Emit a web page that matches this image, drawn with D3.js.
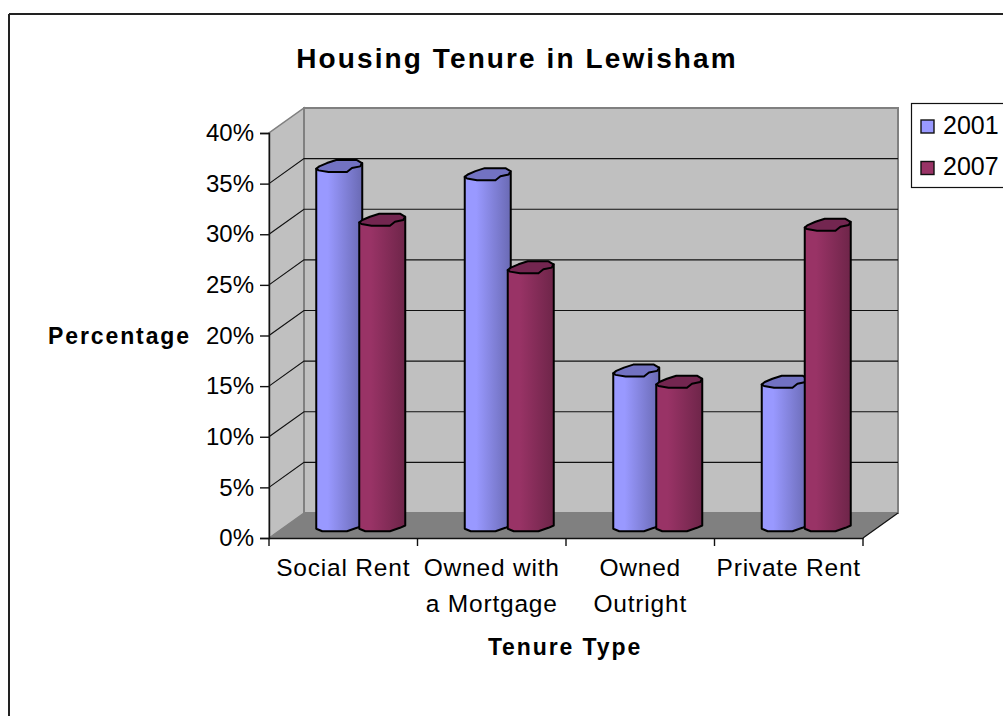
<!DOCTYPE html>
<html><head><meta charset="utf-8">
<script src="https://cdn.jsdelivr.net/npm/d3@7"></script>
<style>
html,body{margin:0;padding:0;background:#fff;overflow:hidden}
text{font-family:"Liberation Sans",Arial,sans-serif;fill:#000}
</style></head><body>
<svg id="c" width="1003" height="716"></svg>
<script>
const categories=["Social Rent","Owned with a Mortgage","Owned Outright","Private Rent"];
const categoryLines=[["Social Rent"],["Owned with","a Mortgage"],["Owned","Outright"],["Private Rent"]];
const seriesNames=["2001","2007"];
const values2001=[35.5,34.7,15.3,14.2];
const values2007=[30.2,25.5,14.2,29.7];
const yTicks=[0,5,10,15,20,25,30,35,40];
const seriesColors=["#9999FF","#993366"];
const seriesDark=["#6A6AB4","#6E2549"];
const capColors=["#7272C2","#732650"];

const svg=d3.select("#c");
const y=d3.scaleLinear().domain([0,40]).range([538,133]);
const x=d3.scaleBand().domain(categories).range([269,863]);
const inner=d3.scaleBand().domain(seriesNames).range([-43,43]);
const depth={dx:35,dy:-25};
const line=d3.line();

// outer border
svg.append("line").attr("x1",9).attr("x2",9).attr("y1",14).attr("y2",716).attr("stroke","#222").attr("stroke-width",2);
svg.append("line").attr("x1",9).attr("x2",1003).attr("y1",14).attr("y2",14).attr("stroke","#222").attr("stroke-width",2);

// title
svg.append("text").attr("x",517).attr("y",68).attr("text-anchor","middle")
 .attr("font-size",28).attr("font-weight","bold").attr("letter-spacing",2.1).text("Housing Tenure in Lewisham");

// walls
const [x0,x1]=x.range();
const wallStroke="#808080";
svg.append("path").attr("d",line([[x0,y(0)],[x0+depth.dx,y(0)+depth.dy],[x0+depth.dx,y(40)+depth.dy],[x0,y(40)]])+"Z")
 .attr("fill","#C0C0C0").attr("stroke",wallStroke).attr("stroke-width",1.5);
svg.append("rect").attr("x",x0+depth.dx).attr("y",y(40)+depth.dy).attr("width",x1-x0).attr("height",y(0)-y(40))
 .attr("fill","#C0C0C0").attr("stroke",wallStroke).attr("stroke-width",2);
svg.append("path").attr("d",line([[x0,y(0)],[x0+depth.dx,y(0)+depth.dy],[x1+depth.dx,y(0)+depth.dy],[x1,y(0)]])+"Z")
 .attr("fill","#808080");

// gridlines on the walls
yTicks.filter(t=>t>0&&t<40).forEach(t=>{
  svg.append("path").attr("fill","none").attr("stroke","#111").attr("stroke-width",1.2)
   .attr("d",line([[x0,y(t)],[x0+depth.dx,y(t)+depth.dy],[x1+depth.dx,y(t)+depth.dy]]));
});
svg.append("line").attr("x1",x1).attr("y1",y(0)).attr("x2",x1+depth.dx).attr("y2",y(0)+depth.dy).attr("stroke","#111").attr("stroke-width",1.2);

// axes
const yAxisG=svg.append("g").attr("transform",`translate(${x0},0)`).call(
  d3.axisLeft(y).tickValues(yTicks).tickSize(9).tickPadding(6).tickFormat(d=>d+"%"));
const xAxisG=svg.append("g").attr("transform",`translate(0,${y(0)})`).call(
  d3.axisBottom(x).tickValues([]).tickSizeOuter(0));
[yAxisG,xAxisG].forEach(g=>{g.selectAll("path,line").attr("stroke","#111").attr("stroke-width",1.4);});
yAxisG.selectAll("text").attr("font-size",24).attr("fill","#000").attr("font-family","Liberation Sans");
xAxisG.selectAll(".edge").data(d3.range(categories.length+1)).enter().append("line").attr("class","edge")
 .attr("x1",i=>x0+i*x.step()).attr("x2",i=>x0+i*x.step()).attr("y1",0).attr("y2",8).attr("stroke","#111").attr("stroke-width",1.4);

// category labels
categories.forEach((c,i)=>{
  categoryLines[i].forEach((l,j)=>{
    svg.append("text").attr("x",x(c)+x.bandwidth()/2).attr("y",576+j*35.5).attr("text-anchor","middle")
     .attr("font-size",24.5).attr("letter-spacing",0.8).text(l);
  });
});

// axis titles
svg.append("text").attr("x",48).attr("y",344).attr("font-size",23).attr("font-weight","bold").attr("letter-spacing",1.9).text("Percentage");
svg.append("text").attr("x",565).attr("y",655).attr("text-anchor","middle").attr("font-size",23).attr("font-weight","bold").attr("letter-spacing",1.9).text("Tenure Type");

// gradients
const defs=svg.append("defs");
seriesNames.forEach((s,i)=>{
  const g=defs.append("linearGradient").attr("id","g"+s);
  g.append("stop").attr("offset","0").attr("stop-color",seriesColors[i]);
  g.append("stop").attr("offset","0.25").attr("stop-color",seriesColors[i]);
  g.append("stop").attr("offset","1").attr("stop-color",seriesDark[i]);
});

// cylinders: faceted outline of the top cap and the lower edge
const capShape=[[-23,2.7],[-20,0.3],[-12.3,-3],[-3,-6],[17.7,-6],[22.7,-3],[21,0.3],[12.7,2],[7.7,6],[-10.7,6],[-20.7,4.3]];
const baseShape=[[-23,3.3],[-17,5.7],[7.7,5.7],[17.7,2.3],[23,0]];
const midDepth={dx:depth.dx/2,dy:depth.dy/2};
function drawBar(cat,si,v){
  const cx=x(cat)+x.bandwidth()/2+midDepth.dx+inner(seriesNames[si])+inner.bandwidth()/2;
  const yb=y(0)+midDepth.dy, yt=y(v)+midDepth.dy;
  const bodyPts=[[cx-23,yt+2.7],...baseShape.map(p=>[cx+p[0],yb+p[1]]),[cx+23,yt-3]];
  svg.append("path").attr("d",line(bodyPts)+"Z").attr("fill",`url(#g${seriesNames[si]})`)
   .attr("stroke","#000").attr("stroke-width",2).attr("stroke-linejoin","round");
  svg.append("path").attr("d",line(capShape.map(p=>[cx+p[0],yt+p[1]]))+"Z").attr("fill",capColors[si])
   .attr("stroke","#000").attr("stroke-width",2).attr("stroke-linejoin","round");
}
categories.forEach((c,i)=>{drawBar(c,0,values2001[i]);drawBar(c,1,values2007[i]);});

// legend
svg.append("rect").attr("x",911.5).attr("y",103.5).attr("width",100).attr("height",84).attr("fill","#fff").attr("stroke","#111").attr("stroke-width",1.2);
seriesNames.forEach((s,i)=>{
  const ly=126.5+i*41.5;
  svg.append("rect").attr("x",921).attr("y",ly-6.5).attr("width",13).attr("height",13).attr("fill",seriesColors[i]).attr("stroke","#111").attr("stroke-width",1.4);
  svg.append("text").attr("x",943).attr("y",ly+7).attr("font-size",25).text(s);
});
</script>
</body></html>
